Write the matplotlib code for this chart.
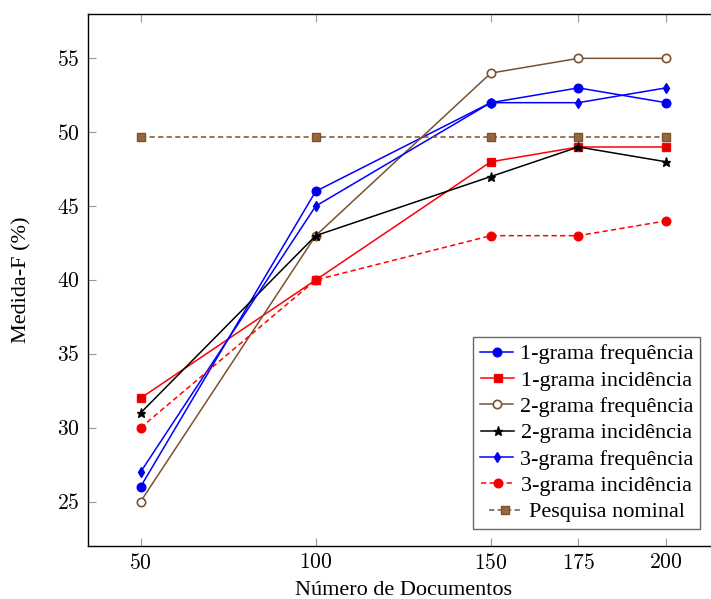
import matplotlib
matplotlib.use("Agg")
import matplotlib.pyplot as plt

plt.rcParams['font.family'] = ['Liberation Serif', 'DejaVu Serif']
plt.rcParams['mathtext.fontset'] = 'cm'

docs = [50, 100, 150, 175, 200]
g1_freq = [26, 46, 52, 53, 52]
g1_inc = [32, 40, 48, 49, 49]
g2_freq = [25, 43, 54, 55, 55]
g2_inc = [31, 43, 47, 49, 48]
g3_freq = [27, 45, 52, 52, 53]
g3_inc = [30, 40, 43, 43, 44]
nominal = [49.65, 49.65, 49.65, 49.65, 49.65]

labels = ['1-grama frequência', '1-grama incidência', '2-grama frequência',
          '2-grama incidência', '3-grama frequência', '3-grama incidência',
          'Pesquisa nominal']
yticks = [25, 30, 35, 40, 45, 50, 55]

fig = plt.figure(figsize=(7.11, 5.99), dpi=100)
ax = fig.add_axes([88/711, 1-546/599, (718.5-88)/711, (546-14)/599])

brown = '#7a5230'
brown_fill = '#99663a'
lw = 1.1
dash = (0, (3.4, 2.2))
ax.plot(docs, g1_freq, color='blue', lw=lw, marker='o', ms=6.2,
        mfc='#0000e0', mec='blue', label=labels[0])
ax.plot(docs, g1_inc, color='red', lw=lw, marker='s', ms=5.8,
        mfc='#dd0000', mec='red', label=labels[1])
ax.plot(docs, g2_freq, color=brown, lw=lw, marker='o', ms=6.0,
        mfc='white', mec=brown, mew=1.2, label=labels[2])
ax.plot(docs, g2_inc, color='black', lw=lw, marker='*', ms=6.5,
        mfc='black', mec='black', label=labels[3])
ax.plot(docs, g3_freq, color='blue', lw=lw, marker='d', ms=5.5,
        mfc='#0000e0', mec='blue', label=labels[4])
ax.plot(docs, g3_inc, color='red', lw=lw, ls=dash, marker='o', ms=6.2,
        mfc='#ee0000', mec='red', label=labels[5])
ax.plot(docs, nominal, color=brown, lw=lw, ls=dash, marker='s', ms=5.8,
        mfc=brown_fill, mec=brown, label=labels[6])

ax.set_xlim(35, 215)
ax.set_ylim(22, 58)
ax.set_xticks(docs)
ax.set_xticklabels([f'${d}$' for d in docs])
ax.set_yticks(yticks)
ax.set_yticklabels([f'${t}$' for t in yticks])
ax.tick_params(direction='in', length=6, width=0.8, color='#999999',
               labelsize=15.5, pad=6, top=True, right=True)
for s in ax.spines.values():
    s.set_linewidth(1.0)

ax.set_xlabel('Número de Documentos', fontsize=16, labelpad=5)
ax.set_ylabel('Medida-F (%)', fontsize=16, labelpad=18)

leg = ax.legend(loc='lower right', bbox_to_anchor=(612/630.5, 17/532),
                fontsize=16, frameon=True, fancybox=False,
                edgecolor='#444444', borderpad=0.3, labelspacing=0.26,
                handlelength=1.5, handletextpad=0.3, borderaxespad=0)
leg.get_frame().set_linewidth(1.0)
try:
    for col in leg._legend_handle_box.get_children():
        col.align = 'center'
except Exception:
    pass

fig.savefig('out.png', dpi=100)
